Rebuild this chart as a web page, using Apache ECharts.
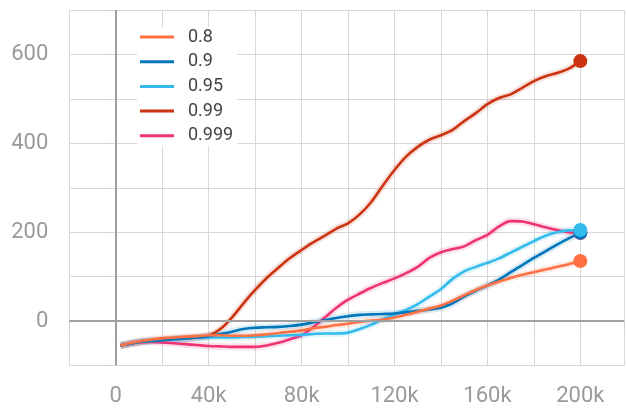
<!DOCTYPE html>
<html>
<head>
<meta charset="utf-8">
<script src="https://cdn.jsdelivr.net/npm/echarts@6/dist/echarts.min.js"></script>
<style>
html,body{margin:0;padding:0;background:#fff;}
#c{width:627px;height:408px;}
</style>
</head>
<body>
<div id="c"></div>
<script>
const steps = [2000,5000,10000,15000,20000,25000,30000,35000,40000,45000,50000,55000,60000,65000,70000,75000,80000,85000,90000,95000,100000,105000,110000,115000,120000,125000,130000,135000,140000,145000,150000,155000,160000,165000,170000,175000,180000,185000,190000,195000,200000];

const names = ['0.8','0.9','0.95','0.99','0.999'];
const colors = ['#ff7043','#0077bb','#33bbee','#cc3311','#ee3377'];

const s080 = [-55,-51,-46,-42,-39,-37,-35,-34,-32,-32,-33,-33,-32,-30,-27,-24,-21,-16,-13,-9,-6,-2,1,3,8,14,21,28,35,46,58,70,80,89,97,104,110,116,122,128,135];
const s090 = [-55,-52,-47,-45,-43,-41,-39,-37,-34,-29,-24,-18,-15,-14,-13,-11,-8,-3,2,7,11,14,15,16,17,20,23,26,30,40,55,68,80,93,110,126,142,157,172,186,199];
const s095 = [-55,-52,-47,-45,-43,-41,-39,-37,-37,-37,-37,-36,-35,-34,-33,-32,-31,-29,-28,-28,-26,-18,-8,4,14,25,38,55,72,95,112,122,131,141,154,167,180,192,200,204,205];
const s099 = [-55,-52,-47,-44,-42,-40,-39,-37,-33,-18,8,40,70,97,120,142,160,177,192,208,220,240,268,305,340,370,392,408,418,430,450,468,488,502,510,525,540,551,558,568,585];
const s0999 = [-55,-52,-48,-47,-48,-50,-52,-54,-56,-57,-58,-58,-58,-55,-49,-41,-32,-14,8,30,48,62,75,86,96,108,122,142,155,162,168,182,194,213,225,224,218,211,205,200,198];

const xTickValues = [0,40000,80000,120000,160000,200000];
const xTickLabels = ['0','40k','80k','120k','160k','200k'];
const yTickValues = [0,200,400,600];
const yTickLabels = ['0','200','400','600'];

const values = [s080,s090,s095,s099,s0999];
const pairs = v => steps.map((x,i)=>[x,v[i]]);

const drawOrder = [4,3,2,1,0];
const series = [];
// zero lines
series.push({
  type:'line', name:'_zero', data:[], silent:true, z:1,
  markLine:{silent:true, symbol:['none','none'], label:{show:false},
    lineStyle:{color:'#a0a0a0', width:2, type:'solid'},
    data:[{yAxis:0},{xAxis:0}]}
});
drawOrder.forEach(i=>{
  series.push({type:'line', name:names[i]+'_raw', data:pairs(values[i]), smooth:0.3, showSymbol:false, silent:true, z:2,
    lineStyle:{color:colors[i], width:7, opacity:0.15}, itemStyle:{color:colors[i]}});
});
drawOrder.forEach(i=>{
  series.push({type:'line', name:names[i], data:pairs(values[i]), smooth:0.3, showSymbol:false, z:3,
    lineStyle:{color:colors[i], width:2.6}, itemStyle:{color:colors[i]}});
});
[0,3,4,1,2].forEach((i,k)=>{
  const v = values[i];
  series.push({type:'scatter', name:names[i]+'_end', data:[[steps[steps.length-1], v[v.length-1]]],
    symbolSize:14, z:4+k, itemStyle:{color:colors[i], opacity:1}});
});

const chart = echarts.init(document.getElementById('c'), null, {renderer:'canvas'});
chart.setOption({
  animation:false,
  backgroundColor:'#ffffff',
  textStyle:{fontFamily:'Roboto'},
  grid:{left:69.3, right:0, top:10, bottom:42.5, containLabel:false},
  legend:{
    data:names.map((n,i)=>({name:n, itemStyle:{color:colors[i]}})),
    orient:'vertical', left:137, top:27,
    padding:[1,4,2,3], backgroundColor:'#ffffff',
    icon:'rect', itemWidth:34, itemHeight:3, itemGap:6.7,
    textStyle:{fontFamily:'Roboto', fontSize:18, color:'#444', lineHeight:18, padding:[0,0,0,9]}
  },
  xAxis:{
    type:'value', min:-20000, max:218800, interval:20000,
    axisLine:{show:false},
    axisTick:{show:true, length:8, lineStyle:{color:'#d0d0d0'}},
    splitLine:{show:true, lineStyle:{color:'#d8d8d8', width:1}},
    axisLabel:{fontFamily:'Roboto', fontSize:22, color:'#9a9a9a', margin:20,
      formatter:v=>{const k=xTickValues.indexOf(v); return k>=0?xTickLabels[k]:'';}}
  },
  yAxis:{
    type:'value', min:-100, max:700, interval:100,
    axisLine:{show:false},
    axisTick:{show:true, length:10, lineStyle:{color:'#d0d0d0'}},
    splitLine:{show:true, lineStyle:{color:'#d8d8d8', width:1}},
    axisLabel:{fontFamily:'Roboto', fontSize:22, color:'#9a9a9a', margin:21,
      formatter:v=>{const k=yTickValues.indexOf(v); return k>=0?yTickLabels[k]:'';}}
  },
  series:series
});
</script>
</body>
</html>
